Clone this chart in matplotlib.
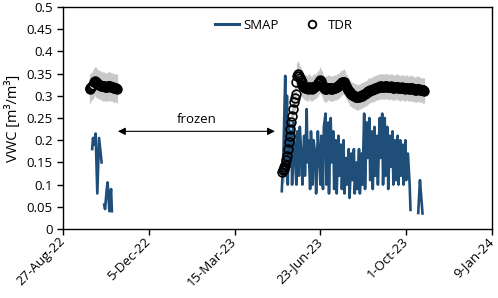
import numpy as np
import pandas as pd
import matplotlib
matplotlib.use('Agg')
import matplotlib.pyplot as plt
import matplotlib.transforms as mtransforms
from matplotlib.lines import Line2D

plt.rcParams['font.family'] = ['Open Sans', 'DejaVu Sans']

# ---- data ----
# SMAP, autumn 2022 (days since 30-Sep-22), nan = break in the line
smap1_start = '2022-09-30'
smap1_day = [0, 1, 2, 4, 6, 8, 11, 12, 14, 15, 17, 18, 20, 22, 23]
smap1_vwc = [0.18, 0.205, 0.19, 0.215, 0.08, 0.205, 0.15, np.nan,
             0.055, 0.045, 0.09, 0.105, 0.04, 0.09, 0.04]

# SMAP, 2023 (days since 9-May-23)
smap2_start = '2023-05-09'
smap2_day = [0, 2, 4, 5, 6, 7, 8, 9, 11, 12, 14, 15, 17, 18, 20, 21, 23, 24, 26, 27,
             29, 30, 31, 33, 34, 36, 37, 39, 40, 42, 43, 45, 46, 48, 49, 51, 52, 54, 55, 57,
             58, 60, 61, 63, 64, 66, 67, 69, 70, 72, 73, 75, 76, 78, 79, 81, 82, 84, 85, 87,
             88, 90, 91, 93, 94, 96, 97, 99, 100, 102, 103, 105, 106, 108, 109, 111, 112, 114, 115, 117,
             118, 120, 121, 123, 124, 126, 127, 129, 130, 132, 133, 135, 136, 138, 139, 141, 142, 144, 145, 147,
             149, 150, 155, 159, 161, 162, 164]
smap2_vwc = [0.085, 0.18, 0.345, 0.12, 0.30, 0.10, 0.25, 0.14, 0.22, 0.10, 0.24, 0.17, 0.10, 0.22, 0.12, 0.23, 0.16, 0.10, 0.21, 0.12,
             0.27, 0.15, 0.20, 0.09, 0.22, 0.10, 0.20, 0.17, 0.08, 0.22, 0.18, 0.10, 0.21, 0.09, 0.23, 0.26, 0.10, 0.24, 0.08, 0.25,
             0.15, 0.22, 0.09, 0.20, 0.08, 0.21, 0.12, 0.19, 0.09, 0.20, 0.08, 0.16, 0.10, 0.18, 0.07, 0.17, 0.11, 0.18, 0.08, 0.15,
             0.09, 0.18, 0.08, 0.17, 0.10, 0.26, 0.09, 0.24, 0.16, 0.25, 0.11, 0.22, 0.09, 0.23, 0.12, 0.21, 0.10, 0.25, 0.16, 0.26,
             0.10, 0.25, 0.12, 0.23, 0.09, 0.21, 0.14, 0.22, 0.10, 0.20, 0.11, 0.21, 0.10, 0.20, 0.12, 0.19, 0.10, 0.20, 0.11, 0.17,
             0.10, 0.043, np.nan, 0.036, 0.11, 0.085, 0.035]

# TDR daily means
tdr1_start = '2022-09-27'
tdr1_vwc = [0.315, 0.318, 0.32, 0.322, 0.325, 0.33, 0.333, 0.332, 0.33, 0.328,
            0.326, 0.325, 0.324, 0.323, 0.322, 0.322, 0.321, 0.321, 0.32, 0.32,
            0.32, 0.321, 0.322, 0.322, 0.321, 0.32, 0.32, 0.319, 0.318, 0.318,
            0.317, 0.317, 0.316]
tdr1_err = 0.032

tdr2_start = '2023-05-09'
tdr2_vwc = [0.128, 0.132, 0.135, 0.14, 0.145, 0.155, 0.165, 0.18, 0.195, 0.21,
            0.225, 0.24, 0.255, 0.27, 0.285, 0.295, 0.305, 0.33, 0.345, 0.35,
            0.345, 0.34, 0.335, 0.33, 0.325, 0.322, 0.32, 0.318, 0.318, 0.317,
            0.316, 0.318, 0.32, 0.319, 0.317, 0.316, 0.318, 0.32, 0.32, 0.321,
            0.322, 0.325, 0.328, 0.331, 0.334, 0.336, 0.333, 0.327, 0.321, 0.317,
            0.315, 0.315, 0.316, 0.317, 0.318, 0.318, 0.317, 0.316, 0.316, 0.317,
            0.317, 0.318, 0.318, 0.319, 0.32, 0.321, 0.322, 0.324, 0.326, 0.328,
            0.33, 0.331, 0.332, 0.33, 0.327, 0.322, 0.318, 0.314, 0.311, 0.308,
            0.306, 0.304, 0.302, 0.301, 0.3, 0.299, 0.298, 0.298, 0.297, 0.297,
            0.298, 0.299, 0.3, 0.3, 0.301, 0.302, 0.303, 0.305, 0.306, 0.308,
            0.309, 0.31, 0.311, 0.312, 0.313, 0.314, 0.315, 0.316, 0.316, 0.317,
            0.318, 0.318, 0.319, 0.32, 0.32, 0.321, 0.321, 0.32, 0.32, 0.32,
            0.321, 0.322, 0.321, 0.32, 0.32, 0.319, 0.32, 0.321, 0.32, 0.319,
            0.318, 0.318, 0.319, 0.32, 0.32, 0.319, 0.318, 0.318, 0.317, 0.318,
            0.319, 0.318, 0.317, 0.316, 0.317, 0.318, 0.318, 0.317, 0.316, 0.316,
            0.317, 0.318, 0.317, 0.316, 0.315, 0.314, 0.314, 0.315, 0.316, 0.316,
            0.315, 0.314, 0.313, 0.313, 0.312, 0.312, 0.311]
tdr2_err = 0.028

xticks = ['2022-08-27', '2022-12-05', '2023-03-15', '2023-06-23', '2023-10-01', '2024-01-09']
frozen_from, frozen_to, frozen_vwc = '2022-10-30', '2023-05-01', 0.22

# ---- build series ----
smap_t = pd.concat([
    pd.Series(pd.Timestamp(smap1_start) + pd.to_timedelta(smap1_day, unit='D')),
    pd.Series([pd.Timestamp('2023-01-01')]),
    pd.Series(pd.Timestamp(smap2_start) + pd.to_timedelta(smap2_day, unit='D'))],
    ignore_index=True)
smap_v = list(smap1_vwc) + [np.nan] + list(smap2_vwc)

tdr1_t = pd.date_range(tdr1_start, periods=len(tdr1_vwc), freq='D')
tdr2_t = pd.date_range(tdr2_start, periods=len(tdr2_vwc), freq='D')

fig = plt.figure(figsize=(4.98, 2.98), dpi=100)
ax = fig.add_axes([0.1265, 0.2315, 0.8615, 0.745])

blue = '#1F4E79'
grey = '#C8C8C8'

for t, v, e in [(tdr1_t, tdr1_vwc, tdr1_err), (tdr2_t, tdr2_vwc, tdr2_err)]:
    ax.errorbar(t, v, yerr=e, fmt='none', ecolor=grey, elinewidth=0.9, zorder=1)

ax.plot(smap_t, smap_v, color=blue, lw=1.9, zorder=2)

for t, v in [(tdr1_t, tdr1_vwc), (tdr2_t, tdr2_vwc)]:
    ax.plot(t, v, ls='none', marker='o', ms=6.3, mfc='none', mec='black', mew=1.2, zorder=3)

ax.annotate('', xy=(pd.Timestamp(frozen_from), frozen_vwc), xytext=(pd.Timestamp(frozen_to), frozen_vwc),
            arrowprops=dict(arrowstyle='<|-|>', color='black', lw=0.8, mutation_scale=11, shrinkA=0, shrinkB=0))
mid = pd.Timestamp(frozen_from) + (pd.Timestamp(frozen_to) - pd.Timestamp(frozen_from)) / 2
ax.text(mid, frozen_vwc + 0.012, 'frozen', ha='center', va='bottom', fontsize=9.5)

ax.set_ylim(0, 0.5)
ax.set_yticks(np.arange(0, 0.501, 0.05))
ax.set_yticklabels(['0', '0.05', '0.1', '0.15', '0.2', '0.25', '0.3', '0.35', '0.4', '0.45', '0.5'])
tk = pd.to_datetime(xticks)
ax.set_xlim(tk[0], tk[-1])
ax.set_xticks(tk)
ax.set_xticklabels([f'{d.day}-{d.strftime("%b-%y")}' for d in tk], rotation=45,
                   ha='right', va='center', rotation_mode='anchor')
shift = mtransforms.ScaledTranslation(-1.5 / 100, -8 / 100, fig.dpi_scale_trans)
for lab in ax.get_xticklabels():
    lab.set_transform(lab.get_transform() + shift)
ax.tick_params(axis='both', direction='out', length=4, width=1, labelsize=9.5, colors='black')
for s in ax.spines.values():
    s.set_linewidth(1.0)
    s.set_color('black')

ax.set_ylabel('VWC [m³/m³]', fontsize=10.5, labelpad=4)

handles = [Line2D([], [], color=blue, lw=2.2),
           Line2D([], [], ls='none', marker='o', ms=5.5, mfc='none', mec='black', mew=1.3)]
ax.legend(handles, ['SMAP', 'TDR'], loc='upper center', bbox_to_anchor=(0.515, 1.0), ncol=2,
          frameon=False, fontsize=9.5, handlelength=1.8, handletextpad=0.3, columnspacing=1.6)

fig.savefig('out.png', dpi=100)
